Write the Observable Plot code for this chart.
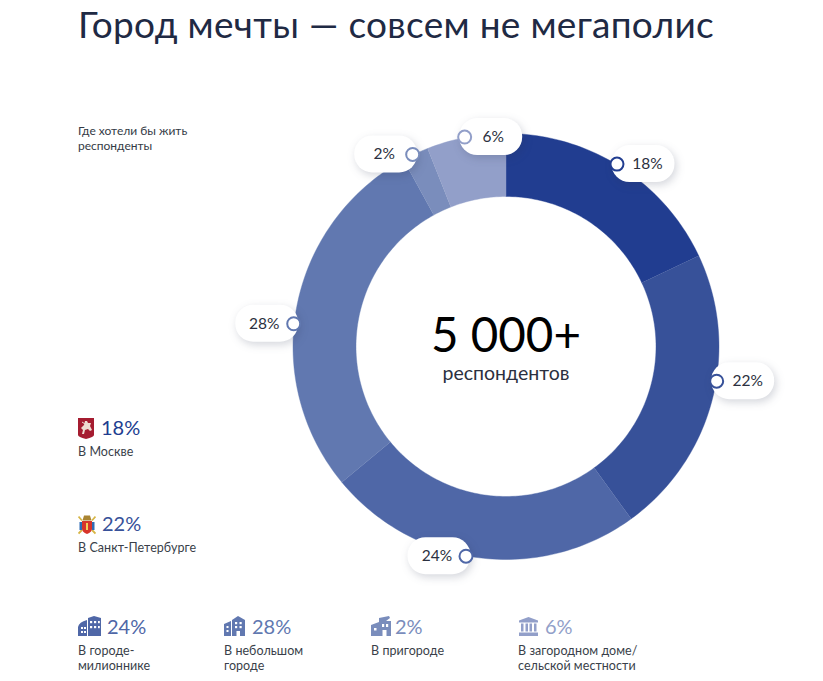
<!DOCTYPE html>
<html lang="ru"><head><meta charset="utf-8">
<script src="https://cdn.jsdelivr.net/npm/d3@7"></script>
<script src="https://cdn.jsdelivr.net/npm/@observablehq/plot@0.6"></script>
<style>
html,body{margin:0;padding:0;background:#fff;overflow:hidden}
body{width:823px;height:681px;position:relative;font-family:Lato,"Noto Sans",sans-serif;color:#2b3040}
h1{position:absolute;left:78px;top:2px;margin:0;font:400 37px/44px Lato,"Noto Sans",sans-serif;color:#1f2a44;letter-spacing:.3px;white-space:nowrap}
#sub{position:absolute;left:78px;top:123px;font-size:12px;line-height:15px;color:#333a45}
#chart{position:absolute;left:0;top:60px}
.it{position:absolute;white-space:nowrap}
.it .p{position:absolute;font-size:20px;line-height:24px}
.it .l{position:absolute;left:0;top:27px;font-size:12.5px;line-height:15px;color:#3a3f4a;letter-spacing:.05px}
.it svg{position:absolute;left:0;top:0}
</style></head><body>
<h1>Город мечты — совсем не мегаполис</h1>
<div id="sub">Где хотели бы жить<br>респонденты</div>
<div id="chart"></div>
<div id="legend"></div>
<script>
const names = ["В Москве","В Санкт-Петербурге","В городе-милионнике","В небольшом городе","В пригороде","В загородном доме/сельской местности"];
const shares = [18,22,24,28,2,6];
const colors = ["#213d90","#375199","#4f67a7","#6178b0","#7a8dbc","#929fc9"];
const calloutAt = [8.7,27.6,53,76.7,92.8,96.9];
const legendLines = [["В Москве"],["В Санкт-Петербурге"],["В городе-","милионнике"],["В небольшом","городе"],["В пригороде"],["В загородном доме/","сельской местности"]];

const R = 213, r = 150, W = 823, H = 621, CX = 505.5, CY = 286;
const polar = (pct, rad) => { const a = pct/100*2*Math.PI; return [rad*Math.sin(a), -rad*Math.cos(a)]; };
let acc = 0;
const slices = shares.map((s,i)=>{const o={name:names[i],share:s,start:acc,end:acc+s,at:calloutAt[i],i};acc+=s;return o;});
const ring = slices.flatMap(d=>{
  const n = Math.max(6, Math.ceil(d.share*3)); const pts=[];
  for(let k=0;k<=n;k++) pts.push({name:d.name,pct:d.start+(d.end-d.start)*k/n,rad:R});
  for(let k=n;k>=0;k--) pts.push({name:d.name,pct:d.start+(d.end-d.start)*k/n,rad:r});
  return pts;
});
const side = [1,1,-1,-1,-1,1];
const labelDx = [30.5,31,-29,-29.5,-28.5,28.5];
const pillOut = 58, pillIn = 5, pillH = 37;
const anchor = d => polar(d.at, R+0.5);
const pill = d => { const [x,y]=anchor(d); const s=side[d.i]; return {x1:s>0?x-pillIn:x-pillOut,x2:s>0?x+pillOut:x+pillIn,y1:y-pillH/2,y2:y+pillH/2}; };

const plot = Plot.plot({
  width:W,height:H,margin:0,
  x:{domain:[-CX,W-CX],range:[0,W],axis:null},
  y:{domain:[-CY,H-CY],range:[0,H],axis:null},
  color:{type:"ordinal",domain:names,range:colors},
  marks:[
    Plot.line(ring,{x:d=>polar(d.pct,d.rad)[0],y:d=>polar(d.pct,d.rad)[1],z:"name",fill:"name",stroke:"name",strokeWidth:0.4,curve:"linear"}),
    Plot.rect(slices,{x1:d=>pill(d).x1,x2:d=>pill(d).x2,y1:d=>pill(d).y1,y2:d=>pill(d).y2,fill:"#fff",rx:18,imageFilter:"drop-shadow(2px 3px 4px rgba(40,50,80,.2))"}),
    Plot.dot(slices,{x:d=>anchor(d)[0],y:d=>anchor(d)[1],r:6.5,fill:"#fff",stroke:"name",strokeWidth:2}),
    Plot.text(slices,{x:d=>anchor(d)[0]+labelDx[d.i],y:d=>anchor(d)[1],text:d=>d.share+"%",fontSize:15.5,fill:"#2b3040",textAnchor:"middle"}),
    Plot.text(["5 000+"],{x:[0],y:[0],dy:-10,fontSize:47.5,fill:"#000"}),
    Plot.text(["респондентов"],{x:[0],y:[0],dy:27,fontSize:19.5,fill:"#2b3040"})
  ]
});
plot.style.fontFamily='Lato,"Noto Sans",sans-serif';
document.getElementById("chart").append(plot);

const arms0 = `<svg width="16" height="21" viewBox="0 0 16 21"><path d="M0 0H16V17Q16 19 8 21Q0 19 0 17Z" fill="#a51c30"/><path d="M7 3l2 0 1 2 3 0-1 3 2 4-2 1-2-2-3 1-1 4-2 0 1-4-2-2 2-2 1-1z" fill="#eeddd2"/><path d="M4 4l3 2" stroke="#eeddd2"/></svg>`;
const arms1 = `<svg width="18" height="20" viewBox="0 0 18 20"><path d="M4 6H14V14Q14 17 9 19Q4 17 4 14Z" fill="#d8342a"/><path d="M6 0.5H12L13.5 5.5H4.5Z" fill="#a98432"/><path d="M0.5 1.5L4 5.5M17.5 1.5L14 5.5M0.5 18.5L4 15M17.5 18.5L14 15" stroke="#d6b545" stroke-width="1.8"/><path d="M8 8h2v7H8z" fill="#f2cf5a"/><path d="M1.5 7h2.5v8H1.5zM14 7h2.5v8H14z" fill="#2f6cb5"/></svg>`;
const bld = c => ({
 a:`<svg width="23" height="20" viewBox="0 0 23 20"><path d="M0 20V11Q1 6 9 4V20ZM10 20V2L16 0L23 2V20Z" fill="${c}"/><g fill="#fff"><rect x="12" y="5" width="2.2" height="2.2"/><rect x="16" y="5" width="2.2" height="2.2"/><rect x="20" y="5" width="1.8" height="2.2"/><rect x="12" y="10" width="2.2" height="2.2"/><rect x="16" y="10" width="2.2" height="2.2"/><rect x="20" y="10" width="1.8" height="2.2"/><rect x="3" y="11" width="2" height="2"/><rect x="6" y="11" width="2" height="2"/><rect x="3" y="15" width="2" height="2"/><rect x="6" y="15" width="2" height="2"/></g></svg>`,
 b:`<svg width="21" height="20" viewBox="0 0 21 20"><path d="M0 20V8L7 5V20ZM8 20V4L14 0L21 4V20Z" fill="${c}"/><g fill="#fff"><rect x="11" y="6" width="2.2" height="2.2"/><rect x="15.5" y="6" width="2.2" height="2.2"/><rect x="11" y="10" width="2.2" height="2.2"/><rect x="15.5" y="10" width="2.2" height="2.2"/><rect x="12.5" y="15" width="3.5" height="5"/><rect x="2.5" y="10" width="2" height="2"/><rect x="2.5" y="14" width="2" height="2"/></g></svg>`,
 c:`<svg width="20" height="20" viewBox="0 0 20 20"><path d="M0 20V9L8 6V2L18 0L19 2L15 5H20V20Z" fill="${c}"/><g fill="#fff"><rect x="11" y="8" width="2.2" height="3"/><rect x="15" y="8" width="2.2" height="3"/><rect x="11.5" y="14" width="4" height="6"/><rect x="3" y="12" width="2.5" height="2.5"/></g></svg>`,
 d:`<svg width="21" height="19" viewBox="0 0 21 19"><path d="M1 3.5L10.5 0L20 3.5V5.5H1Z" fill="${c}"/><path d="M3 6.5h2.5v8H3zM7.5 6.5h2.5v8H7.5zM11.5 6.5h2.5v8h-2.5zM16 6.5h2.5v8H16zM1 15.5H20V19H1Z" fill="${c}"/></svg>`
});
const items = [
 {x:78,y:417,icon:arms0,dx:23,c:colors[0],iy:1},
 {x:78,y:513,icon:arms1,dx:24,c:colors[1],iy:2},
 {x:78,y:616,icon:bld(colors[2]).a,dx:29,c:colors[2],iy:0},
 {x:224,y:616,icon:bld(colors[3]).b,dx:28,c:colors[3],iy:0},
 {x:371,y:616,icon:bld(colors[4]).c,dx:24,c:colors[4],iy:0},
 {x:518,y:616,icon:bld(colors[5]).d,dx:27,c:colors[5],iy:1}
];
const legend=document.getElementById("legend");
items.forEach((it,i)=>{
  const e=document.createElement("div");e.className="it";e.style.left=it.x+"px";e.style.top=it.y+"px";
  e.innerHTML=it.icon.replace("<svg ",`<svg style="top:${it.iy}px" `)+`<div class="p" style="left:${it.dx}px;top:-2px;color:${it.c}">${shares[i]}%</div><div class="l">${legendLines[i].join("<br>")}</div>`;
  legend.append(e);
});
</script></body></html>
